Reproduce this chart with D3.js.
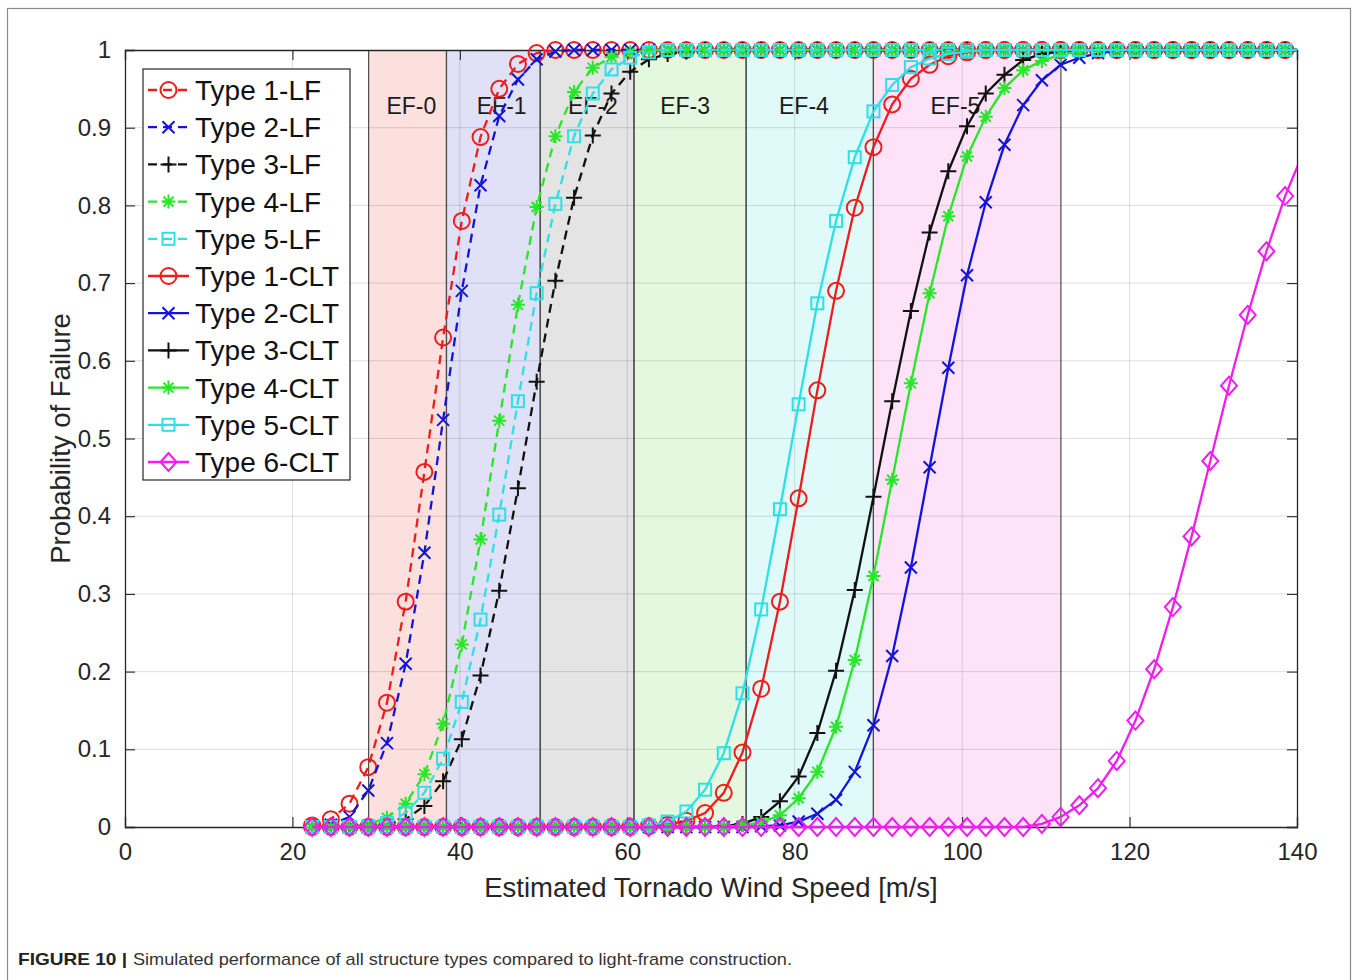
<!DOCTYPE html>
<html>
<head>
<meta charset="utf-8">
<script src="https://cdn.jsdelivr.net/npm/d3@7"></script>
<style>
  body { margin: 0; background: #fff; }
  text { font-family: "Liberation Sans", Arial, Helvetica, sans-serif; }
</style>
</head>
<body>
<svg id="chart" width="1358" height="980"></svg>
<script>
// wind speed samples, mph (plotted in m/s)
const speedsMph = [50, 55, 60, 65, 70, 75, 80, 85, 90, 95, 100, 105, 110, 115, 120, 125, 130, 135,
  140, 145, 150, 155, 160, 165, 170, 175, 180, 185, 190, 195, 200, 205, 210, 215, 220, 225, 230,
  235, 240, 245, 250, 255, 260, 265, 270, 275, 280, 285, 290, 295, 300, 305, 310, 315];

const type1LF = [0.002, 0.01, 0.03, 0.077, 0.16, 0.29, 0.457, 0.63, 0.78, 0.888, 0.95, 0.982, 0.996, 1,
  1, 1, 1, 1, 1, 1, 1, 1, 1, 1, 1, 1, 1, 1, 1, 1, 1, 1, 1, 1, 1, 1, 1, 1, 1, 1, 1, 1, 1, 1, 1, 1, 1, 1, 1, 1, 1, 1, 1, 1];
const type2LF = [0, 0.003, 0.013, 0.047, 0.108, 0.21, 0.353, 0.524, 0.69, 0.826, 0.915, 0.962, 0.988, 0.998,
  1, 1, 1, 1, 1, 1, 1, 1, 1, 1, 1, 1, 1, 1, 1, 1, 1, 1, 1, 1, 1, 1, 1, 1, 1, 1, 1, 1, 1, 1, 1, 1, 1, 1, 1, 1, 1, 1, 1, 1];
const type3LF = [0, 0, 0, 0.001, 0.003, 0.01, 0.027, 0.059, 0.113, 0.195, 0.304, 0.436, 0.573, 0.703,
  0.81, 0.89, 0.944, 0.972, 0.988, 0.995, 0.998, 1, 1, 1, 1, 1, 1, 1, 1, 1, 1, 1, 1, 1, 1, 1, 1, 1, 1, 1, 1, 1, 1, 1, 1, 1, 1, 1, 1, 1, 1, 1, 1, 1];
const type4LF = [0, 0, 0.001, 0.003, 0.012, 0.03, 0.068, 0.133, 0.235, 0.37, 0.523, 0.672, 0.798, 0.889,
  0.946, 0.977, 0.991, 0.997, 1, 1, 1, 1, 1, 1, 1, 1, 1, 1, 1, 1, 1, 1, 1, 1, 1, 1, 1, 1, 1, 1, 1, 1, 1, 1, 1, 1, 1, 1, 1, 1, 1, 1, 1, 1];
const type5LF = [0, 0, 0, 0.001, 0.005, 0.018, 0.044, 0.088, 0.161, 0.267, 0.402, 0.548, 0.687, 0.802,
  0.889, 0.944, 0.975, 0.99, 0.997, 1, 1, 1, 1, 1, 1, 1, 1, 1, 1, 1, 1, 1, 1, 1, 1, 1, 1, 1, 1, 1, 1, 1, 1, 1, 1, 1, 1, 1, 1, 1, 1, 1, 1, 1];
const type1CLT = [0, 0, 0, 0, 0, 0, 0, 0, 0, 0, 0, 0, 0, 0, 0, 0, 0, 0, 0.001, 0.003, 0.008, 0.018, 0.044,
  0.096, 0.178, 0.29, 0.423, 0.562, 0.69, 0.797, 0.875, 0.93, 0.963, 0.981, 0.992, 0.997,
  1, 1, 1, 1, 1, 1, 1, 1, 1, 1, 1, 1, 1, 1, 1, 1, 1, 1];
const type2CLT = [0, 0, 0, 0, 0, 0, 0, 0, 0, 0, 0, 0, 0, 0, 0, 0, 0, 0, 0, 0, 0, 0, 0, 0, 0.001, 0.002,
  0.007, 0.017, 0.035, 0.071, 0.131, 0.22, 0.334, 0.463, 0.591, 0.71, 0.804, 0.878, 0.929, 0.961,
  0.981, 0.99, 0.996, 0.999, 1, 1, 1, 1, 1, 1, 1, 1, 1, 1];
const type3CLT = [0, 0, 0, 0, 0, 0, 0, 0, 0, 0, 0, 0, 0, 0, 0, 0, 0, 0, 0, 0, 0, 0, 0.001, 0.004, 0.013,
  0.033, 0.065, 0.121, 0.201, 0.305, 0.425, 0.548, 0.664, 0.765, 0.844, 0.902, 0.944, 0.968, 0.987,
  0.995, 0.998, 1, 1, 1, 1, 1, 1, 1, 1, 1, 1, 1, 1, 1];
const type4CLT = [0, 0, 0, 0, 0, 0, 0, 0, 0, 0, 0, 0, 0, 0, 0, 0, 0, 0, 0, 0, 0, 0, 0, 0.002, 0.006,
  0.015, 0.037, 0.071, 0.129, 0.215, 0.323, 0.447, 0.571, 0.687, 0.786, 0.863, 0.914, 0.951, 0.974,
  0.986, 0.994, 0.998, 1, 1, 1, 1, 1, 1, 1, 1, 1, 1, 1, 1];
const type5CLT = [0, 0, 0, 0, 0, 0, 0, 0, 0, 0, 0, 0, 0, 0, 0, 0, 0, 0, 0.002, 0.007, 0.02, 0.048, 0.095,
  0.172, 0.28, 0.409, 0.544, 0.674, 0.78, 0.862, 0.921, 0.955, 0.978, 0.989, 0.995, 0.998,
  1, 1, 1, 1, 1, 1, 1, 1, 1, 1, 1, 1, 1, 1, 1, 1, 1, 1];
const type6CLT = [0, 0, 0, 0, 0, 0, 0, 0, 0, 0, 0, 0, 0, 0, 0, 0, 0, 0, 0, 0, 0, 0, 0, 0, 0, 0, 0, 0,
  0, 0, 0, 0, 0, 0, 0, 0, 0, 0, 0, 0.004, 0.013, 0.028, 0.05, 0.085, 0.137, 0.203, 0.283, 0.374,
  0.471, 0.568, 0.659, 0.741, 0.812, 0.87];

const seriesNames = ['Type 1-LF', 'Type 2-LF', 'Type 3-LF', 'Type 4-LF', 'Type 5-LF',
  'Type 1-CLT', 'Type 2-CLT', 'Type 3-CLT', 'Type 4-CLT', 'Type 5-CLT', 'Type 6-CLT'];
const seriesValues = [type1LF, type2LF, type3LF, type4LF, type5LF,
  type1CLT, type2CLT, type3CLT, type4CLT, type5CLT, type6CLT];

// EF scale bands in m/s
const efLabels = ['EF-0', 'EF-1', 'EF-2', 'EF-3', 'EF-4', 'EF-5'];
const efStart = [29.1, 38.4, 49.6, 60.8, 74.2, 89.4];
const efEnd = [38.4, 49.6, 60.8, 74.2, 89.4, 111.8];
const efLabelAt = [34.2, 45.0, 55.9, 66.9, 81.1, 99.2];

const xTicks = [0, 20, 40, 60, 80, 100, 120, 140];
const yTicks = [0, 0.1, 0.2, 0.3, 0.4, 0.5, 0.6, 0.7, 0.8, 0.9, 1];

// styles
const colors = ['#ee1c1c', '#1414d8', '#111111', '#28e628', '#2ee0e6',
  '#ee1c1c', '#1414d8', '#111111', '#28e628', '#2ee0e6', '#f01cf0'];
const markers = ['circle', 'x', 'plus', 'star', 'square', 'circle', 'x', 'plus', 'star', 'square', 'diamond'];
const efColors = ['#fbe0de', '#e0e0f7', '#e4e4e4', '#e3f8de', '#dffaf8', '#fde2f8'];

const svg = d3.select('#chart');
const pLeft = 125, pRight = 1297, pTop = 50, pBottom = 827;

const x = d3.scaleLinear().domain([0, 140]).range([pLeft, pRight]);
const y = d3.scaleLinear().domain([0, 1]).range([pBottom, pTop]);

// figure frame
svg.append('rect').attr('x', 7.5).attr('y', 8.5).attr('width', 1343).attr('height', 990)
  .attr('fill', 'none').attr('stroke', '#8a8a8a').attr('stroke-width', 1.2);

svg.append('defs').append('clipPath').attr('id', 'plotclip')
  .append('rect').attr('x', pLeft).attr('y', pTop - 12).attr('width', pRight - pLeft).attr('height', pBottom - pTop + 24);

// EF bands
const bands = svg.append('g');
efLabels.forEach((lab, i) => {
  bands.append('rect')
    .attr('x', x(efStart[i])).attr('y', pTop)
    .attr('width', x(efEnd[i]) - x(efStart[i])).attr('height', pBottom - pTop)
    .attr('fill', efColors[i]);
});
efLabels.forEach((lab, i) => {
  [efStart[i], efEnd[i]].forEach(v => {
    bands.append('line').attr('x1', x(v)).attr('x2', x(v)).attr('y1', pTop).attr('y2', pBottom)
      .attr('stroke', '#4d4d4d').attr('stroke-width', 1.2);
  });
});

// grid
const grid = svg.append('g').attr('stroke', 'rgba(0,0,0,0.13)').attr('stroke-width', 1);
xTicks.slice(1, -1).forEach(t => grid.append('line').attr('x1', x(t)).attr('x2', x(t)).attr('y1', pTop).attr('y2', pBottom));
yTicks.slice(1, -1).forEach(t => grid.append('line').attr('x1', pLeft).attr('x2', pRight).attr('y1', y(t)).attr('y2', y(t)));

// EF labels
efLabels.forEach((lab, i) => {
  svg.append('text').attr('x', x(efLabelAt[i])).attr('y', 114).attr('text-anchor', 'middle')
    .attr('font-size', 23).attr('fill', '#1a1a1a').text(lab);
});

// axes box with inward ticks
const axisColor = '#262626';
const gx = svg.append('g').attr('transform', `translate(0,${pBottom})`)
  .call(d3.axisBottom(x).tickValues(xTicks).tickSize(-10).tickPadding(16).tickFormat(d3.format('d')));
const gxt = svg.append('g').attr('transform', `translate(0,${pTop})`)
  .call(d3.axisTop(x).tickValues(xTicks).tickSize(-10).tickFormat(''));
const gy = svg.append('g').attr('transform', `translate(${pLeft},0)`)
  .call(d3.axisLeft(y).tickValues(yTicks).tickSize(-10).tickPadding(14).tickFormat(d => d === 0 || d === 1 ? d3.format('d')(d) : d3.format('.1f')(d)));
const gyr = svg.append('g').attr('transform', `translate(${pRight},0)`)
  .call(d3.axisRight(y).tickValues(yTicks).tickSize(-10).tickFormat(''));
[gx, gxt, gy, gyr].forEach(g => {
  g.select('.domain').attr('stroke', axisColor).attr('stroke-width', 1.3);
  g.selectAll('.tick line').attr('stroke', axisColor).attr('stroke-width', 1.1);
  g.selectAll('.tick text').attr('font-size', 24).attr('fill', axisColor)
    .attr('font-family', '"Liberation Sans", Arial, sans-serif');
});

// axis labels
svg.append('text').attr('x', (pLeft + pRight) / 2).attr('y', 897).attr('text-anchor', 'middle')
  .attr('font-size', 27.5).attr('fill', axisColor).text('Estimated Tornado Wind Speed [m/s]');
svg.append('text').attr('transform', `translate(70,${(pTop + pBottom) / 2}) rotate(-90)`)
  .attr('text-anchor', 'middle').attr('font-size', 27.5).attr('fill', axisColor).text('Probability of Failure');

// marker drawing
function drawMarker(g, type, cx, cy, color) {
  const s = g.append('g').attr('transform', `translate(${cx},${cy})`)
    .attr('fill', 'none').attr('stroke', color).attr('stroke-width', 2);
  if (type === 'circle') s.append('circle').attr('r', 8);
  else if (type === 'x') s.append('path').attr('d', 'M-6,-6L6,6M-6,6L6,-6');
  else if (type === 'plus') s.append('path').attr('d', 'M-8,0L8,0M0,-8L0,8');
  else if (type === 'star') s.append('path').attr('d', 'M-7,0L7,0M0,-7L0,7M-5,-5L5,5M-5,5L5,-5');
  else if (type === 'square') s.append('rect').attr('x', -6).attr('y', -6).attr('width', 12).attr('height', 12);
  else if (type === 'diamond') s.append('path').attr('d', 'M0,-9L8,0L0,9L-8,0Z');
}

// series
const plot = svg.append('g').attr('clip-path', 'url(#plotclip)');
const speeds = speedsMph.map(v => v * 0.44704);
const line = d3.line().x((d, i) => x(speeds[i])).y(d => y(d));

seriesValues.forEach((vals, si) => {
  const dashed = si < 5;
  plot.append('path').datum(vals).attr('d', line)
    .attr('fill', 'none').attr('stroke', colors[si]).attr('stroke-width', 2.3)
    .attr('stroke-dasharray', dashed ? '9,6' : null);
  const mg = plot.append('g');
  vals.forEach((v, i) => {
    if (speeds[i] <= 140) drawMarker(mg, markers[si], x(speeds[i]), y(v), colors[si]);
  });
});

// legend
const lg = svg.append('g');
lg.append('rect').attr('x', 143).attr('y', 69).attr('width', 207).attr('height', 411)
  .attr('fill', '#fff').attr('stroke', '#262626').attr('stroke-width', 1.2);
seriesNames.forEach((name, si) => {
  const cy = 90 + si * 37.2;
  lg.append('line').attr('x1', 148).attr('x2', 189).attr('y1', cy).attr('y2', cy)
    .attr('stroke', colors[si]).attr('stroke-width', 2.3)
    .attr('stroke-dasharray', si < 5 ? '9,6' : null);
  drawMarker(lg, markers[si], 168.5, cy, colors[si]);
  lg.append('text').attr('x', 195).attr('y', cy + 10).attr('font-size', 28).attr('fill', '#111').text(name);
});

// caption
svg.append('text').attr('x', 18).attr('y', 965).attr('font-size', 17).attr('font-weight', 'bold')
  .attr('fill', '#222').attr('textLength', 109).attr('lengthAdjust', 'spacingAndGlyphs').text('FIGURE 10 |');
svg.append('text').attr('x', 133).attr('y', 965).attr('font-size', 17)
  .attr('fill', '#333').attr('textLength', 659).attr('lengthAdjust', 'spacingAndGlyphs')
  .text('Simulated performance of all structure types compared to light-frame construction.');
</script>
</body>
</html>
